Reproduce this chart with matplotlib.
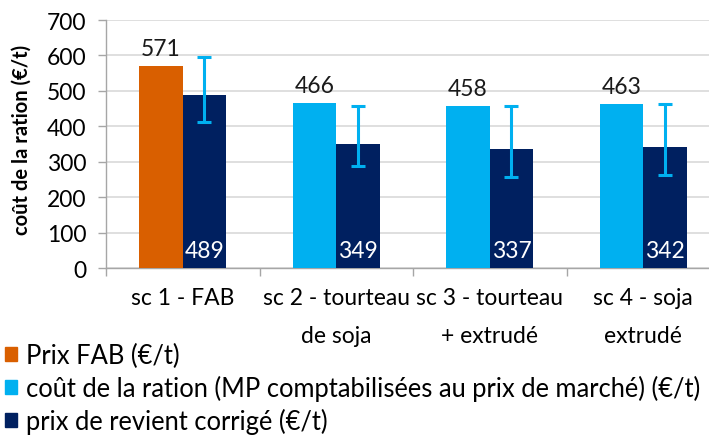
import matplotlib
matplotlib.use("Agg")
import matplotlib.pyplot as plt
import numpy as np
from matplotlib.patches import Patch

categories = ["sc 1 - FAB", "sc 2 - tourteau\nde soja", "sc 3 - tourteau\n+ extrudé", "sc 4 - soja\nextrudé"]
series_labels = ["Prix FAB (€/t)", "coût de la ration (MP comptabilisées au prix de marché) (€/t)", "prix de revient corrigé (€/t)"]
first_values = [571, 466, 458, 463]          # sc1 = Prix FAB, others = coût de la ration
corrected_values = [489, 349, 337, 342]      # prix de revient corrigé
err_low = [412, 289, 257, 262]
err_high = [596, 458, 458, 464]

ORANGE = "#D95F00"
LIGHT = "#00B0F0"
NAVY = "#002060"

plt.rcParams['font.family'] = ['Lato', 'DejaVu Sans']
fs = 16.5

fig = plt.figure(figsize=(7.09, 4.39), dpi=100)
ax = fig.add_axes([106/709, 1-269/439, 4*153.5/709, 248/439])

x = np.arange(len(categories))
w = 0.283
first_colors = [ORANGE] + [LIGHT]*(len(categories)-1)
ax.bar(x - w/2, first_values, w, color=first_colors, zorder=3)
ax.bar(x + w/2, corrected_values, w, color=NAVY, zorder=3)
yerr = [np.array(corrected_values) - np.array(err_low), np.array(err_high) - np.array(corrected_values)]
ax.errorbar(x + w/2, corrected_values, yerr=yerr, fmt='none', ecolor=LIGHT, elinewidth=2.2,
            capsize=5, capthick=2.2, zorder=4)

for xi, v in zip(x, first_values):
    ax.annotate(str(v), (xi - w/2, v), xytext=(0, 5), textcoords='offset points',
                ha='center', va='bottom', fontsize=fs, color='#1a1a1a')
for xi, v in zip(x, corrected_values):
    ax.annotate(str(v), (xi + w/2, 0), xytext=(0, 5), textcoords='offset points',
                ha='center', va='bottom', fontsize=fs, color='white', zorder=5)

ax.set_xlim(-0.5, len(categories) - 0.5)
ax.set_ylim(0, 700)
ax.set_yticks(range(0, 701, 100))
ax.yaxis.grid(True, color='#D9D9D9', linewidth=1.2, zorder=0)
ax.set_axisbelow(True)
ax.set_xticks(x)
ax.set_xticklabels(categories, fontsize=fs, linespacing=1.95)
ax.set_xticks(np.arange(-0.5, len(categories), 1), minor=True)
ax.tick_params(axis='x', which='major', length=0, pad=14)
ax.tick_params(axis='x', which='minor', length=6, color='#A6A6A6', width=1)
ax.tick_params(axis='y', length=6, color='#A6A6A6', width=1, labelsize=fs, pad=8)
for s in ['top', 'right']:
    ax.spines[s].set_visible(False)
for s in ['left', 'bottom']:
    ax.spines[s].set_color('#A6A6A6')
    ax.spines[s].set_linewidth(1)
ax.set_ylabel("coût de la ration (€/t)", fontsize=14.5, fontweight='bold')
ax.yaxis.set_label_coords(-74/614, (269-140)/248)

handles = [Patch(color=ORANGE), Patch(color=LIGHT), Patch(color=NAVY)]
fig.legend(handles, series_labels, loc='upper left', bbox_to_anchor=(0.0, 1 - 339/439),
           frameon=False, fontsize=18.4, handlelength=0.45, handleheight=0.45, handletextpad=0.35,
           labelspacing=0.27, borderaxespad=0, borderpad=0.2)

fig.savefig("out.png", dpi=100)
